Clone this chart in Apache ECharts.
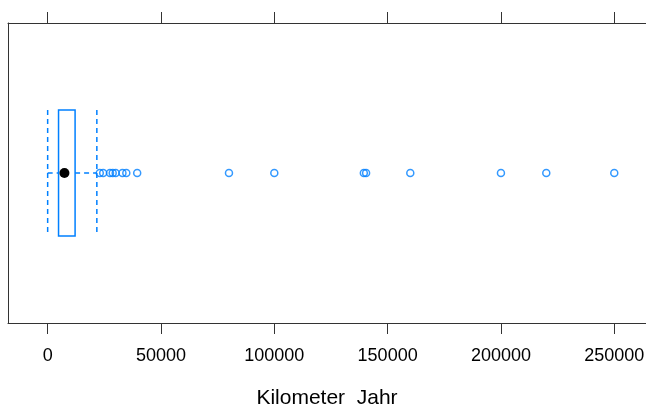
<!DOCTYPE html>
<html>
<head>
<meta charset="utf-8">
<script src="https://cdn.jsdelivr.net/npm/echarts@6/dist/echarts.min.js"></script>
<style>
  html, body { margin: 0; padding: 0; background: #fff; }
  #chart { width: 646px; height: 407px; }
</style>
</head>
<body>
<div id="chart"></div>
<script>
// Box-und-Whisker-Plot: Kilometer pro Jahr (Nachbau eines lattice bwplot)
const axisName = 'Kilometer  Jahr';
const tickValues = [0, 50000, 100000, 150000, 200000, 250000];
// [unterer Whisker, Q1, Median, Q3, oberer Whisker]
const boxStats = [0, 4800, 7400, 12100, 21700];
// Ausreißer
const outliers = [23000, 24500, 27500, 28700, 30000, 33000, 34700, 39500,
                  80000, 100000, 139500, 140500, 160000, 200000, 220000, 250000];

const blue = '#0080ff';
const frame = '#333';
const yMid = 0.5;

document.addEventListener('DOMContentLoaded', () => {
    const chart = echarts.init(document.getElementById('chart'));

    const font = { fontFamily: 'Liberation Sans, Arial, sans-serif', color: '#000' };
    // Rahmen aus Achsenlinien (rechte Kante liegt im Original außerhalb des Bildes)
    const line = { show: true, onZero: false, lineStyle: { color: frame, width: 1 } };

    const option = {
        animation: false,
        grid: { left: 8, right: 0, top: 23, bottom: 84, outerBoundsMode: 'none' },
        xAxis: [
            {
                type: 'value', position: 'bottom', min: -17500, max: 264000,
                splitLine: { show: false },
                axisLine: line,
                axisTick: { show: true, inside: false, length: 11, customValues: tickValues,
                            lineStyle: { color: frame, width: 1 } },
                axisLabel: { ...font, fontSize: 18, margin: 24, customValues: tickValues,
                             formatter: v => String(v) },
                name: axisName, nameLocation: 'middle', nameGap: 65,
                nameTextStyle: { ...font, fontSize: 21 }
            },
            {
                type: 'value', position: 'top', min: -17500, max: 264000,
                splitLine: { show: false },
                axisLine: line,
                axisTick: { show: true, inside: false, length: 11, customValues: tickValues,
                            lineStyle: { color: frame, width: 1 } },
                axisLabel: { show: false }
            }
        ],
        yAxis: {
            type: 'value', min: 0, max: 1, position: 'left',
            axisLine: line, axisTick: { show: false }, axisLabel: { show: false },
            splitLine: { show: false }
        },
        series: [
            {
                type: 'custom',
                xAxisIndex: 0,
                data: [boxStats],
                renderItem: (params, api) => {
                    const lo = api.value(0), q1 = api.value(1), med = api.value(2),
                          q3 = api.value(3), hi = api.value(4);
                    const top = api.coord([q1, yMid + 0.21])[1];
                    const bot = api.coord([q1, yMid - 0.21])[1];
                    const cy = api.coord([q1, yMid])[1];
                    const xLo = api.coord([lo, yMid])[0];
                    const x1 = api.coord([q1, yMid])[0];
                    const xm = api.coord([med, yMid])[0];
                    const x3 = api.coord([q3, yMid])[0];
                    const xHi = api.coord([hi, yMid])[0];
                    const dash = { stroke: blue, lineWidth: 1.5, lineDash: [5, 4], fill: null };
                    return {
                        type: 'group',
                        children: [
                            { type: 'line', shape: { x1: xLo, y1: top, x2: xLo, y2: bot }, style: dash },
                            { type: 'line', shape: { x1: xHi, y1: top, x2: xHi, y2: bot }, style: dash },
                            { type: 'line', shape: { x1: xLo, y1: cy, x2: x1, y2: cy }, style: dash },
                            { type: 'line', shape: { x1: x3, y1: cy, x2: xHi, y2: cy }, style: dash },
                            { type: 'rect', shape: { x: x1, y: top, width: x3 - x1, height: bot - top },
                              style: { stroke: blue, lineWidth: 1.5, fill: null } },
                            { type: 'circle', shape: { cx: xm, cy: cy, r: 5 },
                              style: { fill: '#000', stroke: null } }
                        ]
                    };
                }
            },
            {
                type: 'scatter',
                xAxisIndex: 0,
                symbol: 'circle',
                symbolSize: 7,
                data: outliers.map(v => [v, yMid]),
                itemStyle: { color: 'rgba(0,0,0,0)', borderColor: blue, borderWidth: 1.5 }
            }
        ]
    };

    chart.setOption(option);
});
</script>
</body>
</html>
